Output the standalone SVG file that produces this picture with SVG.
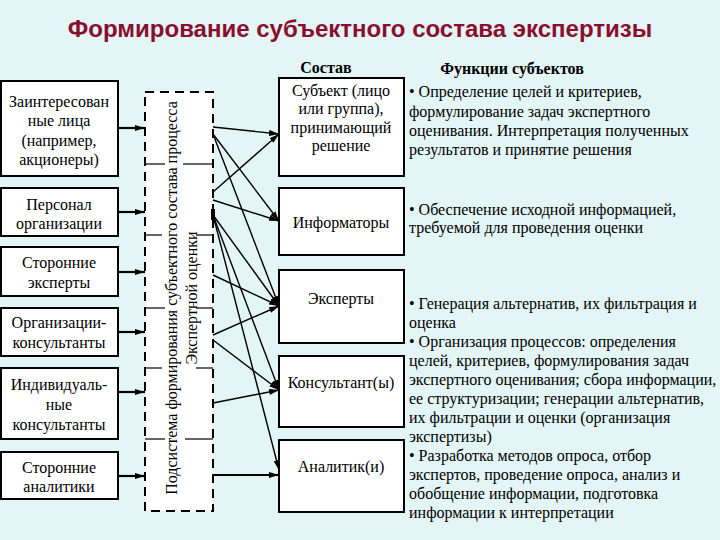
<svg xmlns="http://www.w3.org/2000/svg" width="720" height="540" viewBox="0 0 720 540">
<style>
.bx{fill:#fff;stroke:#000;stroke-width:2}
.t{font-family:"Liberation Serif","Times New Roman",serif;font-size:16px;fill:#000}
.m{text-anchor:middle}
.b{font-weight:bold}
.ln{stroke:#000;stroke-width:1.4;fill:none}
.la{stroke:#000;stroke-width:2.2;fill:none}
.tk{stroke:#000;stroke-width:1.2}
</style>
<defs>
<marker id="ah" viewBox="0 0 10 6" refX="10" refY="3" markerWidth="10" markerHeight="6" markerUnits="userSpaceOnUse" orient="auto">
<path d="M0,0 L10,3 L0,6 z" fill="#000"/>
</marker>
</defs>
<rect width="720" height="540" fill="#e3f5f5"/>
<text x="360" y="37" text-anchor="middle" font-family="'Liberation Sans',Arial,sans-serif" font-weight="bold" font-size="24" fill="#8a0f2e">Формирование субъектного состава экспертизы</text>

<g id="src1"><rect class="bx" x="1" y="81" width="117" height="95"/>
<text class="t m" x="59" y="107">Заинтересован</text><text class="t m" x="59" y="126">ные лица</text><text class="t m" x="59" y="146">(например,</text><text class="t m" x="59" y="165">акционеры)</text></g>
<g id="src2"><rect class="bx" x="1" y="188" width="117" height="48"/>
<text class="t m" x="59" y="210">Персонал</text><text class="t m" x="59" y="229">организации</text></g>
<g id="src3"><rect class="bx" x="1" y="247" width="117" height="49"/>
<text class="t m" x="59" y="268">Сторонние</text><text class="t m" x="59" y="288">эксперты</text></g>
<g id="src4"><rect class="bx" x="1" y="308" width="117" height="48"/>
<text class="t m" x="59" y="328">Организации-</text><text class="t m" x="59" y="348">консультанты</text></g>
<g id="src5"><rect class="bx" x="1" y="368" width="117" height="71"/>
<text class="t m" x="59" y="390">Индивидуаль-</text><text class="t m" x="59" y="410">ные</text><text class="t m" x="59" y="430">консультанты</text></g>
<g id="src6"><rect class="bx" x="1" y="452" width="117" height="47"/>
<text class="t m" x="59" y="473">Сторонние</text><text class="t m" x="59" y="492">аналитики</text></g>

<g id="subsystem">
<rect x="145" y="92" width="68" height="419" fill="#fff" stroke="#000" stroke-width="2" stroke-dasharray="9,6"/>
<line class="tk" x1="145" y1="164" x2="165" y2="164"/><line class="tk" x1="183" y1="164" x2="213" y2="164"/>
<line class="tk" x1="145" y1="235" x2="162" y2="235"/><line class="tk" x1="196" y1="235" x2="213" y2="235"/>
<line class="tk" x1="145" y1="308" x2="165" y2="308"/><line class="tk" x1="196" y1="308" x2="213" y2="308"/>
<line class="tk" x1="145" y1="368" x2="162" y2="368"/><line class="tk" x1="196" y1="368" x2="213" y2="368"/>
<line class="tk" x1="145" y1="439" x2="165" y2="439"/><line class="tk" x1="185" y1="439" x2="213" y2="439"/>
<text class="t m" transform="translate(177,298) rotate(-90)">Подсистема формирования субъектного состава процесса</text>
<text class="t m" transform="translate(197,298) rotate(-90)">Экспертной оценки</text>
<rect x="211" y="209" width="4" height="11" fill="#000"/>
</g>

<g id="dm"><text class="t m b" x="326" y="73">Состав</text><rect class="bx" x="279" y="78" width="125" height="98"/>
<text class="t m" x="341" y="96">Субъект  (лицо</text><text class="t m" x="341" y="114">или группа),</text><text class="t m" x="341" y="133">принимающий</text><text class="t m" x="341" y="151">решение</text></g>
<g id="inf"><rect class="bx" x="279" y="188" width="125" height="67"/><text class="t m" x="341" y="228">Информаторы</text></g>
<g id="exp"><rect class="bx" x="279" y="270" width="125" height="73"/><text class="t m" x="341" y="304">Эксперты</text></g>
<g id="cons"><rect class="bx" x="279" y="356" width="125" height="71"/><text class="t m" x="341" y="388">Консультант(ы)</text></g>
<g id="anal"><rect class="bx" x="279" y="440" width="125" height="72"/><text class="t m" x="341" y="472">Аналитик(и)</text></g>

<g id="functions">
<text class="t m b" x="512" y="74">Функции субъектов</text>
<text class="t" x="409" y="97">• Определение целей и критериев,</text>
<text class="t" x="409" y="117">формулирование задач экспертного</text>
<text class="t" x="409" y="136">оценивания. Интерпретация полученных</text>
<text class="t" x="409" y="155">результатов и принятие решения</text>
<text class="t" x="409" y="215">• Обеспечение исходной информацией,</text>
<text class="t" x="409" y="233">требуемой для проведения оценки</text>
<text class="t" x="409" y="309">• Генерация альтернатив, их фильтрация и</text>
<text class="t" x="409" y="328">оценка</text>
<text class="t" x="409" y="347">• Организация процессов: определения</text>
<text class="t" x="409" y="366">целей, критериев, формулирования задач</text>
<text class="t" x="409" y="385">экспертного оценивания; сбора информации,</text>
<text class="t" x="409" y="404">ее структуризации; генерации альтернатив,</text>
<text class="t" x="409" y="423">их фильтрации и оценки (организация</text>
<text class="t" x="409" y="442">экспертизы)</text>
<text class="t" x="409" y="461">• Разработка методов опроса, отбор</text>
<text class="t" x="409" y="480">экспертов, проведение опроса, анализ и</text>
<text class="t" x="409" y="499">обобщение информации, подготовка</text>
<text class="t" x="409" y="518">информации к интерпретации</text>
</g>

<g id="connectors">
<line class="la" x1="118" y1="128" x2="145" y2="128" marker-end="url(#ah)"/>
<line class="la" x1="118" y1="212" x2="145" y2="212" marker-end="url(#ah)"/>
<line class="la" x1="118" y1="272" x2="145" y2="272" marker-end="url(#ah)"/>
<line class="la" x1="118" y1="332" x2="145" y2="332" marker-end="url(#ah)"/>
<line class="la" x1="118" y1="392" x2="145" y2="392" marker-end="url(#ah)"/>
<line class="la" x1="118" y1="476" x2="145" y2="476" marker-end="url(#ah)"/>
<line class="ln" x1="213" y1="127" x2="279" y2="134" marker-end="url(#ah)"/>
<line class="ln" x1="213" y1="134" x2="279" y2="221" marker-end="url(#ah)"/>
<line class="ln" x1="213" y1="134" x2="279" y2="306" marker-end="url(#ah)"/>
<line class="ln" x1="213" y1="192" x2="279" y2="134" marker-end="url(#ah)"/>
<line class="ln" x1="213" y1="200" x2="279" y2="221" marker-end="url(#ah)"/>
<line class="ln" x1="213" y1="215" x2="279" y2="306" marker-end="url(#ah)"/>
<line class="ln" x1="213" y1="215" x2="279" y2="390" marker-end="url(#ah)"/>
<line class="ln" x1="213" y1="215" x2="279" y2="470" marker-end="url(#ah)"/>
<line class="ln" x1="213" y1="275" x2="279" y2="306" marker-end="url(#ah)"/>
<line class="ln" x1="213" y1="335" x2="279" y2="306" marker-end="url(#ah)"/>
<line class="ln" x1="213" y1="340" x2="279" y2="390" marker-end="url(#ah)"/>
<line class="ln" x1="213" y1="403" x2="279" y2="390" marker-end="url(#ah)"/>
<line class="la" x1="213" y1="475" x2="279" y2="475" marker-end="url(#ah)"/>
</g>
</svg>
